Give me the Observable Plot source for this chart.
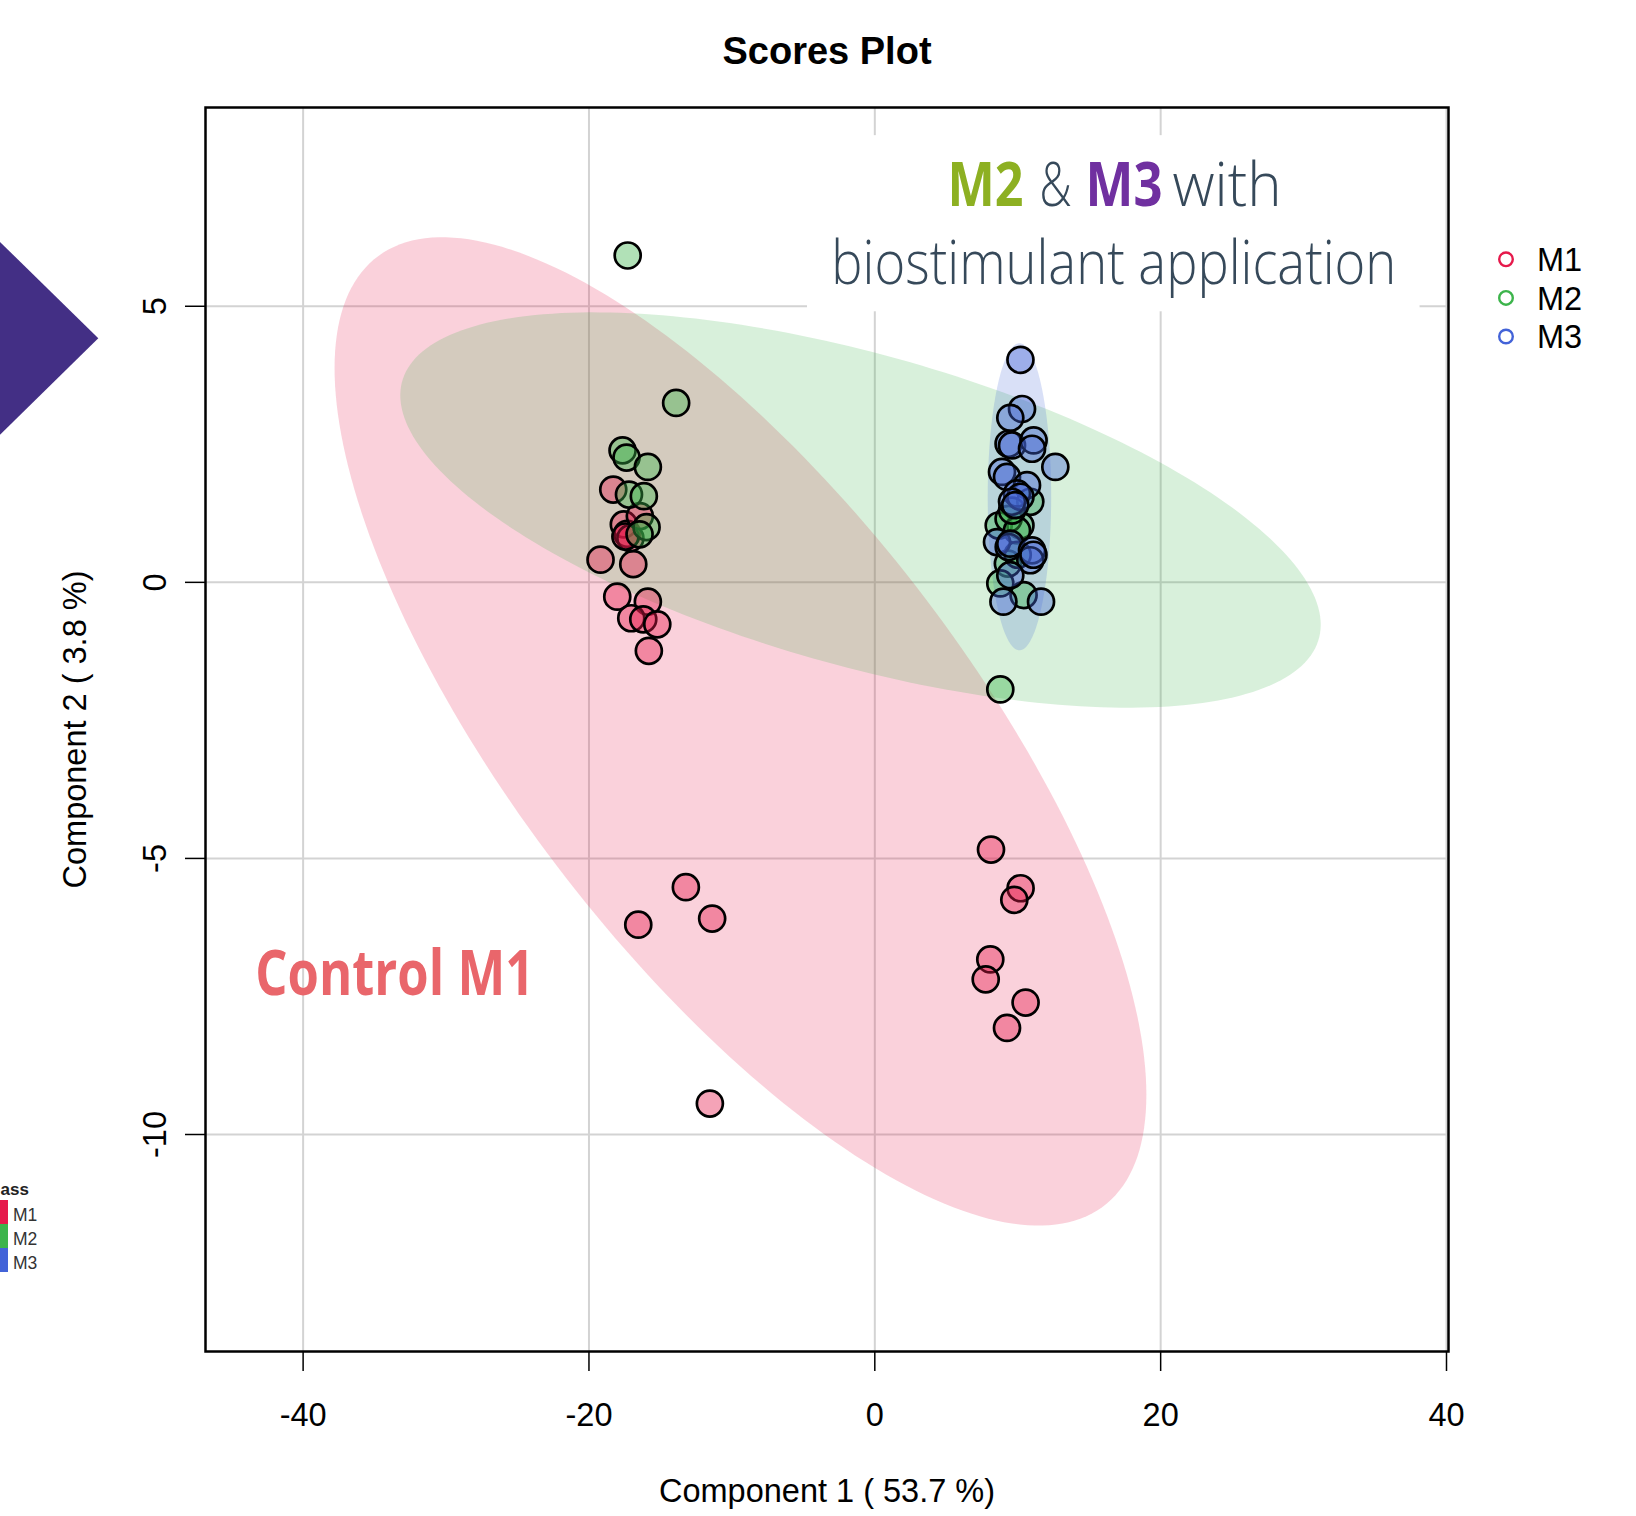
<!DOCTYPE html>
<html>
<head>
<meta charset="utf-8">
<script src="https://cdn.jsdelivr.net/npm/d3@7"></script>
<script src="https://cdn.jsdelivr.net/npm/@observablehq/plot@0.6"></script>
<style>
  html, body { margin: 0; padding: 0; background: #fff; }
  #chart svg { display: block; }
</style>
</head>
<body>
<div id="chart"></div>
<script>
// ---------------- data ----------------
const groups = ["M1", "M2", "M3"];
const groupColors = ["#e6194b", "#3cb44b", "#4363d8"];

const m1X = [-18.3, -17.56, -17.32, -17.1, -17.45, -16.44, -19.19, -16.9, -18.02, -15.88, -17.04, -16.2, -15.22, -15.81,
             -13.22, -16.55, -11.38, -11.54,
             8.13, 10.2, 9.76, 8.08, 7.76, 10.55, 9.25];
const m1Y = [1.68, 1.05, 0.88, 0.8, 0.83, 1.2, 0.41, 0.33, -0.26, -0.35, -0.65, -0.67, -0.76, -1.24,
             -5.52, -6.2, -6.09, -9.44,
             -4.84, -5.54, -5.75, -6.83, -7.19, -7.61, -8.07];

const m2X = [-17.29, -13.9, -17.65, -17.37, -15.88, -17.2, -16.16, -15.97, -16.46,
             10.88, 8.67, 10.19, 9.36, 9.95, 9.31, 8.78, 10.41, 8.78, 9.6, 10.0];
const m2Y = [5.92, 3.25, 2.39, 2.26, 2.09, 1.59, 1.56, 1.0, 0.87,
             1.46, 1.03, 1.03, 1.15, 0.94, 0.34, -0.02, -0.23, -1.94, 1.3, 0.5];

const m3X = [10.19, 10.3, 9.48, 9.36, 9.6, 11.11, 11.0, 12.63, 8.9, 9.25, 10.65, 9.95, 10.19, 9.6, 9.83,
             8.55, 9.37, 9.48, 11.0, 10.88, 11.1, 9.48, 9.0, 11.63];
const m3Y = [4.03, 3.14, 2.98, 2.51, 2.48, 2.57, 2.42, 2.09, 2.0, 1.91, 1.76, 1.61, 1.55, 1.46, 1.4,
             0.73, 0.64, 0.7, 0.58, 0.4, 0.5, 0.13, -0.35, -0.35];

// 95% confidence ellipses: centre, half-extents, correlation
const ellipseGroup = ["M1", "M2", "M3"];
const ellipseCx  = [-9.4, -1.0, 10.12];
const ellipseCy  = [-2.7, 1.31, 1.55];
const ellipseRx  = [28.4, 32.2, 2.22];
const ellipseRy  = [8.95, 3.58, 2.78];
const ellipseRho = [-0.735, -0.58, 0.0];

const xTicks = [-40, -20, 0, 20, 40];
const yTicks = [-10, -5, 0, 5];

const titleText = "Scores Plot";
const xLabel = "Component 1 ( 53.7 %)";
const yLabel = "Component 2 ( 3.8 %)";

// ---------------- tables ----------------
const points = [];
[[m1X, m1Y, "M1"], [m2X, m2Y, "M2"], [m3X, m3Y, "M3"]].forEach(([xs, ys, g]) => {
  xs.forEach((x, i) => points.push({x, y: ys[i], group: g}));
});

const colorOf = g => groupColors[groups.indexOf(g)];

const ellipses = ellipseGroup.map((g, k) => {
  const pts = [];
  const n = 240;
  const s = Math.sqrt(1 - ellipseRho[k] * ellipseRho[k]);
  for (let i = 0; i < n; i++) {
    const t = 2 * Math.PI * i / n;
    pts.push({
      x: ellipseCx[k] + ellipseRx[k] * Math.cos(t),
      y: ellipseCy[k] + ellipseRy[k] * (ellipseRho[k] * Math.cos(t) + s * Math.sin(t))
    });
  }
  return {group: g, pts};
});

// ---------------- layout ----------------
const W = 1636, H = 1516;
const font = "'Liberation Sans', Arial, Helvetica, sans-serif";
const annFont = "'Open Sans', 'Noto Sans', sans-serif";
const slate = "#36495a";

const annotations = [
  {text: "M2", x: 5.08, y: 6.81, fill: "#8db022", weight: "bold", size: 61, len: 76},
  {text: "&", x: 11.52, y: 6.81, fill: slate, weight: 300, size: 61, len: 32},
  {text: "M3", x: 14.74, y: 6.81, fill: "#7030a0", weight: "bold", size: 61, len: 77},
  {text: "with", x: 20.83, y: 6.81, fill: slate, weight: 300, size: 61, len: 109},
  {text: "biostimulant application", x: -3.04, y: 5.41, fill: slate, weight: 300, size: 61, len: 565},
  {text: "Control M1", x: -43.35, y: -7.47, fill: "#e9666b", weight: "bold", size: 63, len: 279}
];

const chart = Plot.plot({
  width: W,
  height: H,
  marginLeft: 205,
  marginRight: 188,
  marginTop: 107,
  marginBottom: 165,
  x: {domain: [-46.83, 40.14]},
  y: {domain: [-13.93, 8.60]},
  color: {domain: groups, range: groupColors},
  style: {fontFamily: font, background: "white", overflow: "visible", color: "black"},
  marks: [
    Plot.gridX(xTicks, {stroke: "#d3d3d3", strokeOpacity: 1, strokeWidth: 2}),
    Plot.gridY(yTicks, {stroke: "#d3d3d3", strokeOpacity: 1, strokeWidth: 2}),
    Plot.rect([0], {x1: -4.71, x2: 38.15, y1: 4.90, y2: 8.09, fill: "white"}),
    ...ellipses.map(e => Plot.line(e.pts, {
      x: "x", y: "y", fill: colorOf(e.group), fillOpacity: 0.2, stroke: "none", curve: "linear-closed"
    })),
    Plot.dot(points, {x: "x", y: "y", fill: "group", fillOpacity: 0.4, stroke: "black", strokeWidth: 2.7, r: 13}),
    Plot.frame({stroke: "black", strokeWidth: 2.5}),
    Plot.axisX(xTicks, {tickSize: 20, tickFormat: () => "", label: null, strokeWidth: 1.5}),
    Plot.axisY(yTicks, {tickSize: 20, tickFormat: () => "", label: null, strokeWidth: 1.5}),
    Plot.text(xTicks, {x: d => d, text: d => String(d), frameAnchor: "bottom", lineAnchor: "bottom", textAnchor: "middle", dy: 74, fontSize: 32.5, fill: "black"}),
    Plot.text(yTicks, {y: d => d, text: d => String(d), frameAnchor: "left", rotate: -90, lineAnchor: "bottom", textAnchor: "middle", dx: -40, fontSize: 32.5, fill: "black"}),
    Plot.text([titleText], {text: d => d, frameAnchor: "top", lineAnchor: "bottom", textAnchor: "middle", dy: -44, fontSize: 38, fontWeight: "bold", fill: "black"}),
    Plot.text([xLabel], {text: d => d, frameAnchor: "bottom", lineAnchor: "bottom", textAnchor: "middle", dy: 150, fontSize: 32.5, fill: "black"}),
    Plot.text([yLabel], {text: d => d, frameAnchor: "left", rotate: -90, lineAnchor: "bottom", textAnchor: "middle", dx: -120, fontSize: 32.5, fill: "black"}),
    ...annotations.map(a => Plot.text([a], {
      x: "x", y: "y", text: "text", textAnchor: "start", lineAnchor: "bottom",
      fill: a.fill, fontWeight: a.weight, fontSize: a.size, fontFamily: annFont
    }))
  ]
});

document.getElementById("chart").appendChild(chart);

// condense annotation text to the widths seen in the picture
const svg = d3.select(chart);
svg.selectAll("text").each(function () {
  const a = annotations.find(d => d.text === this.textContent);
  if (a) {
    this.setAttribute("textLength", a.len);
    this.setAttribute("lengthAdjust", "spacingAndGlyphs");
  }
});

// right-hand legend (open circles)
const lg = svg.append("g").attr("font-family", font).attr("text-anchor", "start");
groups.forEach((g, i) => {
  const cy = 259.3 + i * 38.6;
  lg.append("circle").attr("cx", 1506).attr("cy", cy).attr("r", 6.8)
    .attr("fill", "none").attr("stroke", groupColors[i]).attr("stroke-width", 2.4);
  lg.append("text").attr("x", 1537).attr("y", cy).attr("dy", "0.36em")
    .attr("text-anchor", "start").attr("font-size", 32.5).attr("fill", "black").text(g);
});

// decorations from the surrounding slide: arrow and the cropped class legend
svg.append("polygon").attr("points", "-2,240 98.3,338.3 -2,436.7").attr("fill", "#432f85");
const cl = svg.append("g").attr("font-family", font).attr("text-anchor", "start");
cl.append("text").attr("x", 0.5).attr("y", 1195).attr("text-anchor", "start")
  .attr("font-size", 17).attr("font-weight", "bold").attr("fill", "#222").text("ass");
groups.forEach((g, i) => {
  cl.append("rect").attr("x", -2).attr("y", 1200 + i * 24).attr("width", 10).attr("height", 24).attr("fill", groupColors[i]);
  cl.append("text").attr("x", 13).attr("y", 1221 + i * 24).attr("text-anchor", "start")
    .attr("font-size", 17.5).attr("fill", "#333").text(g);
});
</script>
</body>
</html>
